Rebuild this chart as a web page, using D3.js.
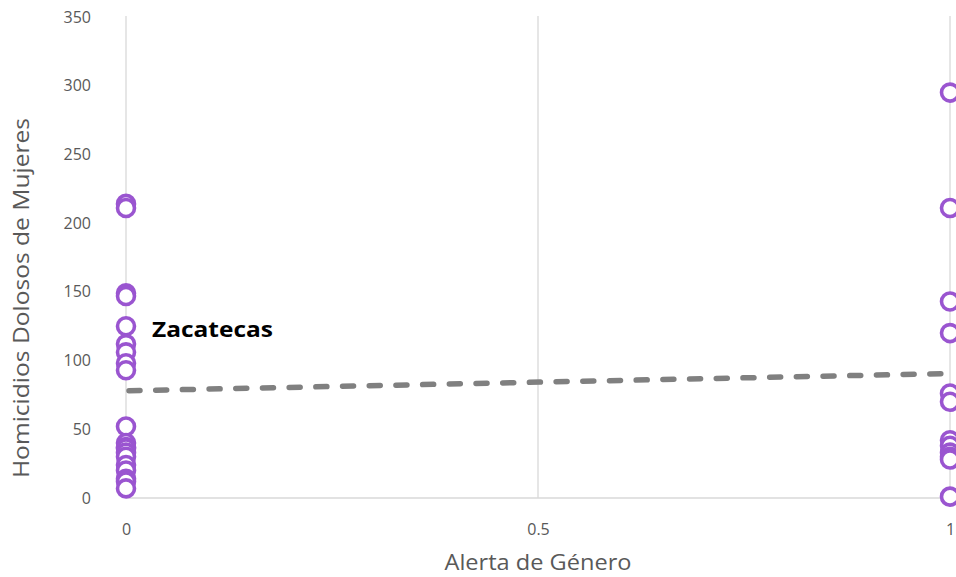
<!DOCTYPE html>
<html>
<head>
<meta charset="utf-8">
<script src="https://cdn.jsdelivr.net/npm/d3@7"></script>
<style>
  html, body { margin: 0; padding: 0; background: #fff; }
  svg { display: block; }
  text { font-family: "Open Sans", "Lato", sans-serif; }
</style>
</head>
<body>
<svg id="chart" width="956" height="577"></svg>
<script>
// ---- Data ----
const xTicks = [0, 0.5, 1];
const xTickLabels = ["0", "0.5", "1"];
const yTicks = [0, 50, 100, 150, 200, 250, 300, 350];
// states without gender alert (x = 0)
const noAlertValues = [214, 211, 149, 147, 125, 112, 106, 98, 93, 52, 40, 37, 36, 33, 30, 24, 20, 14, 12, 7];
// states with gender alert (x = 1)
const alertValues = [295, 211, 143, 120, 76, 70, 42, 38, 33, 30, 28, 1];
const annotation = { label: "Zacatecas", x: 0, y: 125 };
const xTitle = "Alerta de Género";
const yTitle = "Homicidios Dolosos de Mujeres";

const points = noAlertValues.map(v => ({x: 0, y: v}))
  .concat(alertValues.map(v => ({x: 1, y: v})));

// ---- Layout ----
const svg = d3.select("#chart");
const mLeft = 126, mRight = 950, mTop = 17, mBottom = 498;
const x = d3.scaleLinear().domain([0, 1]).range([mLeft, mRight]);
const y = d3.scaleLinear().domain([0, 350]).range([mBottom, mTop]);

// vertical gridlines
svg.append("g").selectAll("line").data(xTicks.slice(1)).join("line")
  .attr("x1", d => x(d)).attr("x2", d => x(d))
  .attr("y1", y(350) - 1).attr("y2", mBottom)
  .attr("stroke", "#d9d9d9").attr("stroke-width", 1.3);

// axes
const yAxis = d3.axisLeft(y).tickValues(yTicks).tickSize(0).tickPadding(35);
const gy = svg.append("g").attr("transform", `translate(${mLeft},0)`).call(yAxis);
gy.select(".domain").attr("stroke", "#d9d9d9").attr("stroke-width", 1.3)
  .attr("d", `M0,${y(350) - 1}V${mBottom}`);
gy.selectAll("text").attr("fill", "#595959").style("font-size", "16px")
  .style("font-family", "'Open Sans', sans-serif");

const xAxis = d3.axisBottom(x).tickValues(xTicks).tickFormat((d, i) => xTickLabels[i])
  .tickSize(0).tickPadding(26);
const gx = svg.append("g").attr("transform", `translate(0,${mBottom})`).call(xAxis);
gx.select(".domain").attr("stroke", "#d9d9d9").attr("stroke-width", 1.3)
  .attr("d", `M${mLeft},0H${mRight}`);
gx.selectAll("text").attr("fill", "#595959").style("font-size", "16px")
  .style("font-family", "'Open Sans', sans-serif");

// axis titles
svg.append("text").attr("x", 538).attr("y", 570)
  .attr("text-anchor", "middle").attr("fill", "#595959")
  .attr("textLength", 187).attr("lengthAdjust", "spacingAndGlyphs")
  .style("font-size", "21px").text(xTitle);
svg.append("text").attr("transform", `translate(29,298) rotate(-90)`)
  .attr("text-anchor", "middle").attr("fill", "#595959")
  .attr("textLength", 360).attr("lengthAdjust", "spacingAndGlyphs")
  .style("font-size", "21px").text(yTitle);

// linear trendline (least squares)
const mx = d3.mean(points, d => d.x), my = d3.mean(points, d => d.y);
const slope = d3.sum(points, d => (d.x - mx) * (d.y - my)) / d3.sum(points, d => (d.x - mx) ** 2);
const intercept = my - slope * mx;
svg.append("line")
  .attr("x1", x(0)).attr("y1", y(intercept))
  .attr("x2", x(1)).attr("y2", y(intercept + slope))
  .attr("stroke", "#808080").attr("stroke-width", 5.5)
  .attr("stroke-linecap", "round").attr("stroke-dasharray", "11,15.7")
  .attr("stroke-dashoffset", -3);

// points
svg.append("g").selectAll("circle").data(points).join("circle")
  .attr("cx", d => x(d.x)).attr("cy", d => y(d.y)).attr("r", 8.5)
  .attr("fill", "#fff").attr("stroke", "#9a55d0").attr("stroke-width", 3.6);

// annotation
svg.append("text").attr("x", x(annotation.x) + 26).attr("y", y(annotation.y) + 11)
  .attr("fill", "#000").style("font-weight", "bold").style("font-size", "21px")
  .attr("textLength", 121).attr("lengthAdjust", "spacingAndGlyphs")
  .text(annotation.label);
</script>
</body>
</html>
